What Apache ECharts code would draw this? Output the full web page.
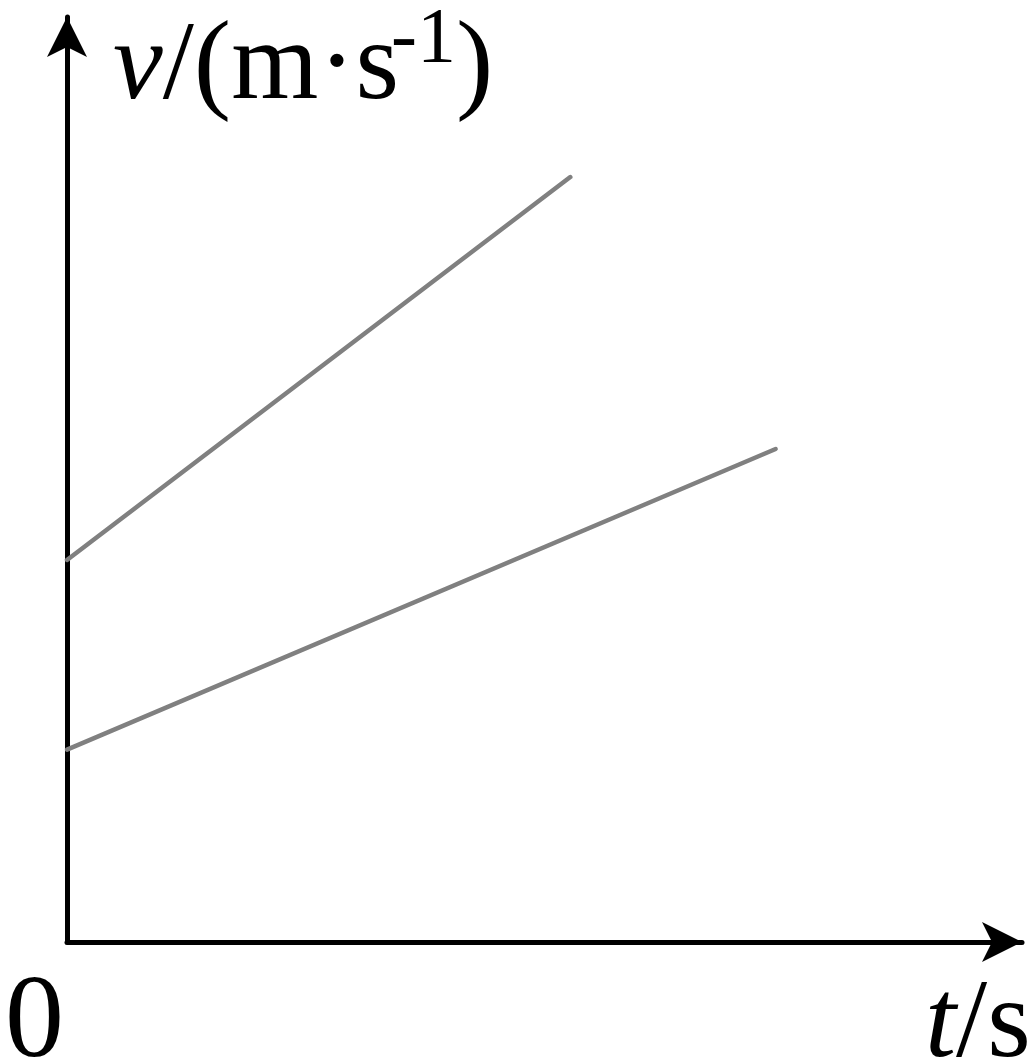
<!DOCTYPE html>
<html>
<head>
<meta charset="utf-8">
<script src="https://cdn.jsdelivr.net/npm/echarts@6/dist/echarts.min.js"></script>
<style>
html,body{margin:0;padding:0;background:#fff;}
#c{width:1035px;height:1064px;}
</style>
</head>
<body>
<div id="c"></div>
<script>
// Data (arbitrary units: axis ranges 0..10)
const lineUpperT = [0, 5.27];
const lineUpperV = [4.13, 8.27];
const lineLowerT = [0, 7.42];
const lineLowerV = [2.08, 5.33];
const axisMax = 10;
const originLabel = '0';

const toPairs = (xs, ys) => xs.map((x, i) => [x, ys[i]]);
const FONT = '"Liberation Serif", "Times New Roman", serif';

const chart = echarts.init(document.getElementById('c'), null, {renderer: 'canvas'});
chart.setOption({
  backgroundColor: '#ffffff',
  animation: false,
  grid: {left: 67, right: 13, top: 17, bottom: 122, containLabel: false},
  xAxis: {
    type: 'value', min: 0, max: axisMax,
    axisLine: {show: true, onZero: false, symbol: ['none', 'arrow'], symbolSize: [30, 40],
      lineStyle: {color: '#000', width: 5}},
    axisTick: {show: false}, axisLabel: {show: false}, splitLine: {show: false}
  },
  yAxis: {
    type: 'value', min: 0, max: axisMax,
    axisLine: {show: true, onZero: false, symbol: ['none', 'arrow'], symbolSize: [30, 40],
      lineStyle: {color: '#000', width: 5}},
    axisTick: {show: false}, axisLabel: {show: false}, splitLine: {show: false}
  },
  series: [
    {type: 'line', data: toPairs(lineUpperT, lineUpperV), showSymbol: false, symbol: 'none',
      lineStyle: {color: '#808080', width: 4.5, cap: 'round'}},
    {type: 'line', data: toPairs(lineLowerT, lineLowerV), showSymbol: false, symbol: 'none',
      lineStyle: {color: '#808080', width: 4.5, cap: 'round'}}
  ],
  graphic: [
    {type: 'text', x: 113, y: 125, style: {
      text: '{i|v}{r|/(m·s}',
      fill: '#000', font: '112px ' + FONT, textVerticalAlign: 'bottom',
      rich: {
        i: {fontStyle: 'italic', fontSize: 112, fontFamily: FONT, fill: '#000'},
        r: {fontSize: 112, fontFamily: FONT, fill: '#000'}
      }
    }},
    {type: 'text', x: 391, y: 80, style: {text: '-1', fill: '#000', font: '78px ' + FONT, textVerticalAlign: 'bottom'}},
    {type: 'text', x: 456, y: 125, style: {text: ')', fill: '#000', font: '112px ' + FONT, textVerticalAlign: 'bottom'}},
    {type: 'text', x: 5, y: 1084, style: {text: originLabel, fill: '#000', font: '118px ' + FONT, textVerticalAlign: 'bottom'}},
    {type: 'text', x: 925, y: 1083, style: {
      text: '{i|t}{r|/s}', fill: '#000', font: '112px ' + FONT, textVerticalAlign: 'bottom',
      rich: {
        i: {fontStyle: 'italic', fontSize: 112, fontFamily: FONT, fill: '#000'},
        r: {fontSize: 112, fontFamily: FONT, fill: '#000'}
      }
    }}
  ]
});
</script>
</body>
</html>
